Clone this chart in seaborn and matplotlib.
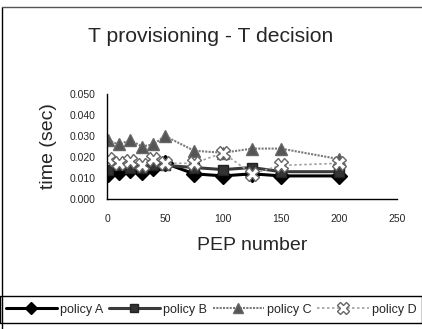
import numpy as np
import pandas as pd
import matplotlib
matplotlib.use("Agg")
import matplotlib.pyplot as plt
from matplotlib.lines import Line2D
from matplotlib.patches import Rectangle
import seaborn as sns

# ---- data ----
pep = [1, 10, 20, 30, 40, 50, 75, 100, 125, 150, 200]
policy_a = [0.012, 0.013, 0.014, 0.013, 0.015, 0.017, 0.012, 0.011, 0.012, 0.011, 0.011]
policy_b = [0.014, 0.016, 0.015, 0.015, 0.016, 0.016, 0.015, 0.014, 0.015, 0.013, 0.013]
policy_c = [0.028, 0.026, 0.028, 0.025, 0.026, 0.030, 0.023, 0.022, 0.024, 0.024, 0.019]
policy_d = [0.019, 0.017, 0.018, 0.016, 0.019, 0.017, 0.017, 0.022, 0.012, 0.016, 0.017]
series_names = ["policy A", "policy B", "policy C", "policy D"]
x_ticks = [0, 50, 100, 150, 200, 250]
y_ticks = [0.000, 0.010, 0.020, 0.030, 0.040, 0.050]
title = "T provisioning - T decision"

df = pd.DataFrame({
    "pep": pep * 4,
    "time": policy_a + policy_b + policy_c + policy_d,
    "policy": sum([[n] * len(pep) for n in series_names], []),
})

sns.set_style("white")
plt.rcParams["font.family"] = ["Liberation Sans", "DejaVu Sans"]

fig = plt.figure(figsize=(4.22, 3.29), dpi=100)
ax = fig.add_axes([0.2536, 0.3951, 0.6872, 0.3192])

colors = {"policy A": "#000000", "policy B": "#3a3a3a", "policy C": "#7a7a7a", "policy D": "#a0a0a0"}
markers = {"policy A": "D", "policy B": "s", "policy C": "^", "policy D": "X"}
lstyles = {"policy A": "-", "policy B": "-", "policy C": (0, (1, 0.6)), "policy D": (0, (1.5, 1.5))}
lwidths = {"policy A": 2.2, "policy B": 2.2, "policy C": 1.5, "policy D": 1.2}
msizes = {"policy A": 8, "policy B": 7.5, "policy C": 9, "policy D": 10}
mfc = {"policy A": "#000000", "policy B": "#333333", "policy C": "#555555", "policy D": "#ffffff"}
mec = {"policy A": "#000000", "policy B": "#222222", "policy C": "#666666", "policy D": "#666666"}

for name in series_names:
    sub = df[df["policy"] == name]
    sns.lineplot(data=sub, x="pep", y="time", ax=ax, color=colors[name],
                 linestyle=lstyles[name], linewidth=lwidths[name],
                 marker=markers[name], markersize=msizes[name],
                 markerfacecolor=mfc[name], markeredgecolor=mec[name],
                 markeredgewidth=1.0, legend=False)

ax.set_xlim(0, 250)
ax.set_ylim(0, 0.05)
ax.set_xticks(x_ticks)
ax.set_yticks(y_ticks)
ax.set_xticklabels([str(t) for t in x_ticks], fontsize=7.5)
ax.set_yticklabels([f"{t:.3f}" for t in y_ticks], fontsize=7.5)
ax.tick_params(axis="both", direction="out", length=3, width=0.8, color="black", pad=5)
ax.tick_params(axis="x", pad=8)
for s in ["top", "right"]:
    ax.spines[s].set_visible(False)
for s in ["left", "bottom"]:
    ax.spines[s].set_color("black")
    ax.spines[s].set_linewidth(1.0)
ax.set_xlabel("PEP number", fontsize=14, labelpad=9)
ax.set_ylabel("time (sec)", fontsize=14, labelpad=9)

fig.text(0.5, 0.89, title, ha="center", va="center", fontsize=15.2)

# outer frame (left and top)
fig.add_artist(Line2D([0.004, 0.004], [0.0, 0.979], transform=fig.transFigure, color="black", lw=1.0))
fig.add_artist(Line2D([0.004, 1.0], [0.979, 0.979], transform=fig.transFigure, color="#555555", lw=1.0))

# legend band frame spanning the full width
fig.add_artist(Rectangle((0.0, 1 - 323 / 329), 1.0, 27 / 329, transform=fig.transFigure,
                         fill=False, edgecolor="black", lw=1.0))

handles = []
for name in series_names:
    handles.append(Line2D([], [], color=colors[name], linestyle=lstyles[name], linewidth=lwidths[name],
                          marker=markers[name], markersize=msizes[name] * 0.8,
                          markerfacecolor=mfc[name], markeredgecolor=mec[name]))
leg = fig.legend(handles, series_names, loc="center", bbox_to_anchor=(0.5, 1 - 309.5 / 329),
                 ncol=4, fontsize=9, frameon=False,
                 handlelength=4.1, handletextpad=0.25, columnspacing=0.45, borderaxespad=0,
                 borderpad=0.0)

fig.savefig("out.png", dpi=100)
